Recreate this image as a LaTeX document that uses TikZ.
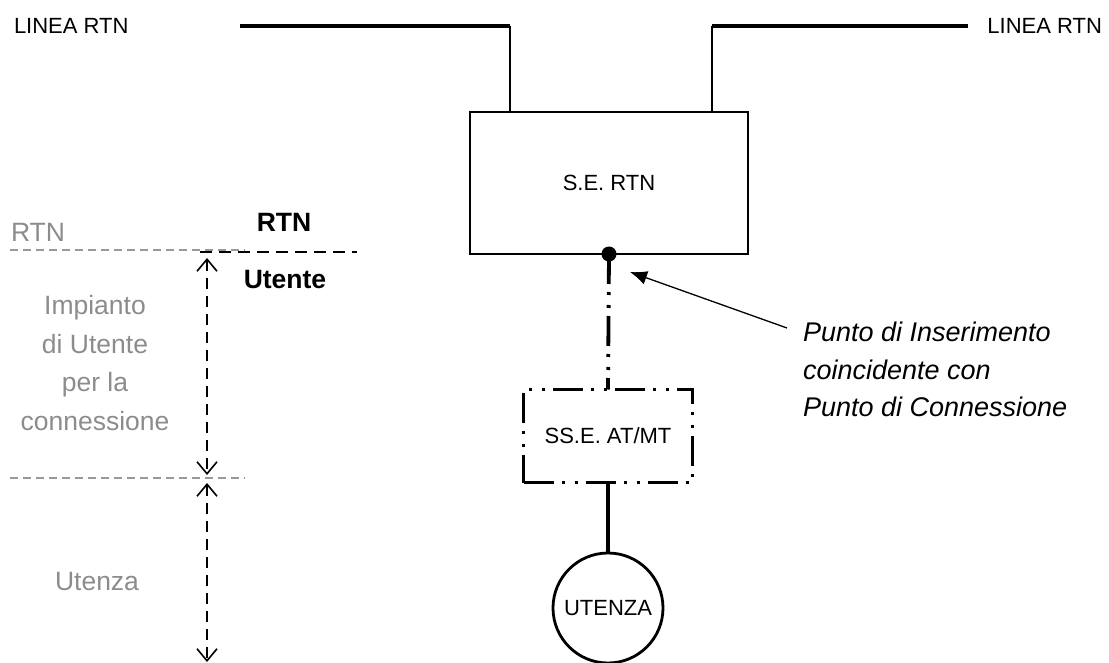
\documentclass[tikz,border=0pt]{standalone}
\usepackage{fontspec}
\setmainfont{Liberation Sans}
\usetikzlibrary{arrows.meta,calc}
\definecolor{txtgray}{gray}{0.55}
\definecolor{dashgray}{gray}{0.6}

\begin{document}
\begin{tikzpicture}[x=1pt,y=-1pt,inner sep=0pt,outer sep=0pt,
  small/.style={font=\fontsize{22}{26}\selectfont},
  large/.style={font=\fontsize{26.5}{38.5}\selectfont},
  dashdotdot/.style={dash pattern=on 30pt off 8pt on 3pt off 10pt on 3pt off 8pt},
  span/.style={dash pattern=on 11pt off 7pt,line width=1.6pt,{Straight Barb[length=12pt,width=20pt,line width=1.6pt]}-{Straight Barb[length=12pt,width=20pt,line width=1.6pt]}}]
\useasboundingbox (0,0) rectangle (1109,663);
% RTN side
\node[draw,line width=2.8pt,minimum width=278pt,minimum height=142pt,small] (se) at (609,183) {S.E. RTN};
\node[small,anchor=west] (linl) at (14,26) {LINEA RTN};
\node[small,anchor=east] (linr) at (1102,26) {LINEA RTN};
\coordinate (la) at (240,26); \coordinate (lb) at (510,26);
\coordinate (ra) at (968,26); \coordinate (rb) at (712,26);
\draw[line width=3.2pt] (la)--(lb); \draw[line width=3.2pt] (ra)--(rb);
\draw[line width=2.2pt] (lb)--(lb |- se.north); \draw[line width=2.2pt] (rb)--(rb |- se.north);
% user side
\node[draw,line width=2.8pt,dashdotdot,minimum width=169pt,minimum height=93pt,small] (sse) at (608,436) {SS.E. AT/MT};
\node[draw,circle,line width=2.8pt,minimum size=110pt,small] (ut) at (608,608) {UTENZA};
\draw[line width=3.8pt,dashdotdot] (se.south)--(sse.north);
\draw[line width=3.2pt] (sse.south)--(ut.north);
\fill (se.south) circle (7.5);
% insertion point
\node[large,font=\fontsize{27}{37.5}\selectfont\itshape,align=left,anchor=north west] (pins) at (803,322) {Punto di Inserimento\\coincidente con\\Punto di Connessione};
\coordinate (pa) at (787,328); \coordinate (pb) at (630,272);
\draw[line width=1.3pt,-{Latex[length=17pt,width=14pt]}] (pa)--(pb);
% boundary on the left
\draw[dashgray,line width=1.2pt,dash pattern=on 8pt off 5pt] (10,250)--(245,250);
\draw[dashgray,line width=1.2pt,dash pattern=on 8pt off 5pt] (10,478)--(245,478);
\draw[line width=1.5pt,dash pattern=on 12pt off 7pt] (200,252)--(357,252);
\node[large,txtgray] (rtng) at (38,232) {RTN};
\node[large,font=\fontsize{26.5}{38.5}\selectfont\bfseries] (rtnb) at (284,222) {RTN};
\node[large,font=\fontsize{26.5}{38.5}\selectfont\bfseries] (utb) at (285,280) {Utente};
\coordinate (aa) at (207,258); \coordinate (ab) at (207,475);
\coordinate (ac) at (207,483); \coordinate (ad) at (207,662);
\draw[span] (aa)--(ab); \draw[span] (ac)--(ad);
\node[large,txtgray,align=center] (imp) at (95,363) {Impianto\\di Utente\\per la\\connessione};
\node[large,txtgray] (utz) at (97,582) {Utenza};
\end{tikzpicture}
\end{document}
